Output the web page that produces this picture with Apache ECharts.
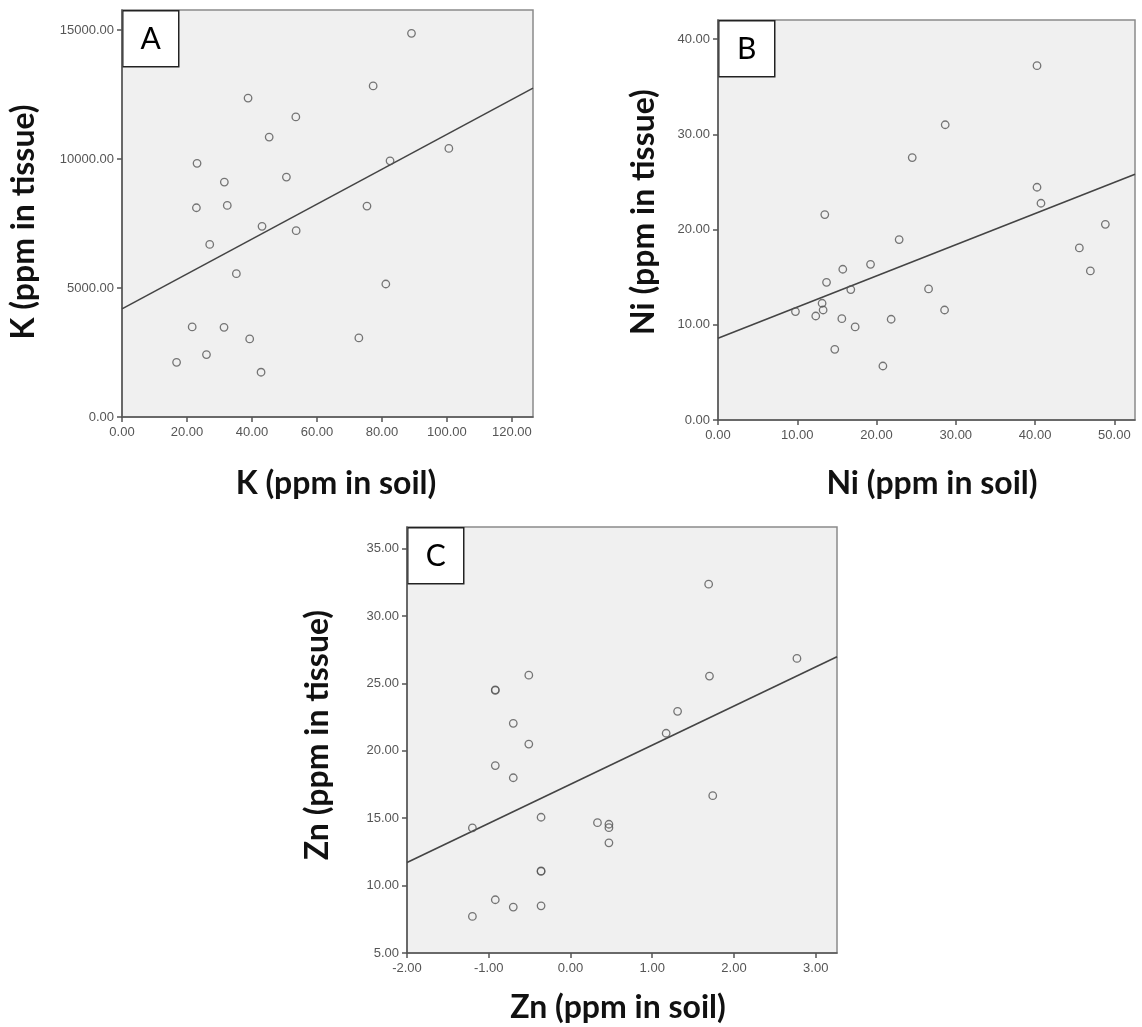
<!DOCTYPE html>
<html>
<head>
<meta charset="utf-8">
<script src="https://cdn.jsdelivr.net/npm/echarts@6/dist/echarts.min.js"></script>
<style>html,body{margin:0;padding:0;background:#fff}#c{width:1142px;height:1027px}</style>
</head>
<body>
<div id="c"></div>
<script>
// ---- Panel A: K ----
const kSoil   = [89.1,77.3,38.8,53.5,45.3,100.6,23.1,82.5,31.5,50.6,22.9,32.4,75.4,43.1,53.6,27.0,35.2,81.2,21.6,31.4,39.3,72.9,26.0,16.8,42.8];
const kTissue = [14870,12830,12360,11630,10850,10410,9830,9930,9105,9300,8110,8200,8175,7390,7220,6690,5555,5155,3490,3475,3025,3065,2420,2120,1735];
const kFitX = [0, 126.5];
const kFitY = [4190, 12745];
const kSoilTicks = [0,20,40,60,80,100,120];
const kTissueTicks = [0,5000,10000,15000];

// ---- Panel B: Ni ----
const niSoil   = [40.24,28.66,24.5,40.24,40.74,13.47,48.86,22.85,45.58,19.24,15.74,46.97,13.69,16.75,26.56,13.13,13.26,9.77,28.58,12.33,15.62,21.84,17.3,14.73,20.8];
const niTissue = [37.2,31.0,27.55,24.44,22.76,21.57,20.55,18.94,18.07,16.35,15.83,15.65,14.46,13.69,13.76,12.26,11.55,11.38,11.55,10.92,10.64,10.58,9.77,7.42,5.67];
const niFitX = [0, 52.6];
const niFitY = [8.58, 25.8];
const niSoilTicks = [0,10,20,30,40,50];
const niTissueTicks = [0,10,20,30,40];

// ---- Panel C: Zn ----
const znSoil   = [1.69,2.77,-0.51,1.70,-0.92,-0.92,1.31,-0.70,1.17,-0.51,-0.92,-0.70,1.74,-0.36,0.33,0.47,0.47,-1.20,0.47,-0.36,-0.36,-0.92,-0.70,-0.36,-1.20];
const znTissue = [32.36,26.85,25.61,25.54,24.52,24.48,22.93,22.04,21.30,20.5,18.9,18.0,16.67,15.07,14.67,14.55,14.3,14.28,13.17,11.09,11.05,8.95,8.41,8.5,7.71];
const znFitX = [-2, 3.26];
const znFitY = [11.71, 26.97];
const znSoilTicks = [-2,-1,0,1,2,3];
const znTissueTicks = [5,10,15,20,25,30,35];

const panelLetters = ['A','B','C'];
const xTitles = ['K (ppm in soil)','Ni (ppm in soil)','Zn (ppm in soil)'];
const yTitles = ['K (ppm in tissue)','Ni (ppm in tissue)','Zn (ppm in tissue)'];

// ---- layout (pixels) ----
const grids = [
  {left:122, top:10,  width:411, height:407},
  {left:718, top:20,  width:417, height:400},
  {left:407, top:527, width:430, height:426}
];
const ranges = [
  {xmin:0, xmax:126.5, ymin:0, ymax:15774},
  {xmin:0, xmax:52.6,  ymin:0, ymax:42.0},
  {xmin:-2, xmax:3.26, ymin:5, ymax:36.6}
];
const xTitlePos = [[336,484],[932,484],[618,1008]];
const yTitlePos = [[24,222],[644,212],[318,735]];

const xs = [kSoil, niSoil, znSoil];
const ys = [kTissue, niTissue, znTissue];
const fx = [kFitX, niFitX, znFitX];
const fy = [kFitY, niFitY, znFitY];
const xt = [kSoilTicks, niSoilTicks, znSoilTicks];
const yt = [kTissueTicks, niTissueTicks, znTissueTicks];

const labelFont = {fontFamily:'Liberation Sans', fontSize:13, color:'#555'};
const titleFont = 'bold 32px Lato';

const option = {
  animation:false,
  backgroundColor:'#fff',
  grid: grids.map(g => Object.assign({show:true, backgroundColor:'#f0f0f0', borderColor:'#8a8a8a', borderWidth:1.5, containLabel:false}, g)),
  xAxis: grids.map((g,i) => ({
    type:'value', gridIndex:i, min:ranges[i].xmin, max:ranges[i].xmax,
    axisLine:{show:true, onZero:false, lineStyle:{color:'#555', width:1.5}},
    axisTick:{show:true, length:5, customValues:xt[i], lineStyle:{color:'#555', width:1.5}},
    axisLabel:Object.assign({customValues:xt[i], margin:9, formatter:v=>v.toFixed(2)}, labelFont),
    splitLine:{show:false}
  })),
  yAxis: grids.map((g,i) => ({
    type:'value', gridIndex:i, min:ranges[i].ymin, max:ranges[i].ymax,
    axisLine:{show:true, onZero:false, lineStyle:{color:'#555', width:1.5}},
    axisTick:{show:true, length:5, customValues:yt[i], lineStyle:{color:'#555', width:1.5}},
    axisLabel:Object.assign({customValues:yt[i], margin:8, formatter:v=>v.toFixed(2)}, labelFont),
    splitLine:{show:false}
  })),
  series: [].concat(
    grids.map((g,i) => ({
      type:'scatter', xAxisIndex:i, yAxisIndex:i,
      data: xs[i].map((x,j)=>[x, ys[i][j]]),
      symbol:'circle', symbolSize:7.5,
      itemStyle:{color:'rgba(0,0,0,0)', borderColor:'#555', borderWidth:1.3},
      z:3
    })),
    grids.map((g,i) => ({
      type:'line', xAxisIndex:i, yAxisIndex:i,
      data: fx[i].map((x,j)=>[x, fy[i][j]]),
      symbol:'none', lineStyle:{color:'#444', width:1.6}, z:2
    }))
  ),
  graphic: [].concat(
    grids.map((g,i) => ({
      type:'group', left:g.left, top:g.top,
      children:[
        {type:'rect', shape:{x:0,y:0,width:56,height:56}, style:{fill:'#fff', stroke:'#222', lineWidth:1.5}},
        {type:'text', x:28, y:29, style:{text:panelLetters[i], font:'30px Lato', fill:'#000', align:'center', verticalAlign:'middle'}}
      ]
    })),
    xTitles.map((t,i) => ({
      type:'text', x:xTitlePos[i][0], y:xTitlePos[i][1],
      style:{text:t, font:titleFont, fill:'#111', align:'center', verticalAlign:'middle'}
    })),
    yTitles.map((t,i) => ({
      type:'text', x:yTitlePos[i][0], y:yTitlePos[i][1], rotation:Math.PI/2,
      style:{text:t, font:titleFont, fill:'#111', align:'center', verticalAlign:'middle'}
    }))
  )
};
const chart = echarts.init(document.getElementById('c'), null, {renderer:'canvas'});
chart.setOption(option);
</script>
</body>
</html>
